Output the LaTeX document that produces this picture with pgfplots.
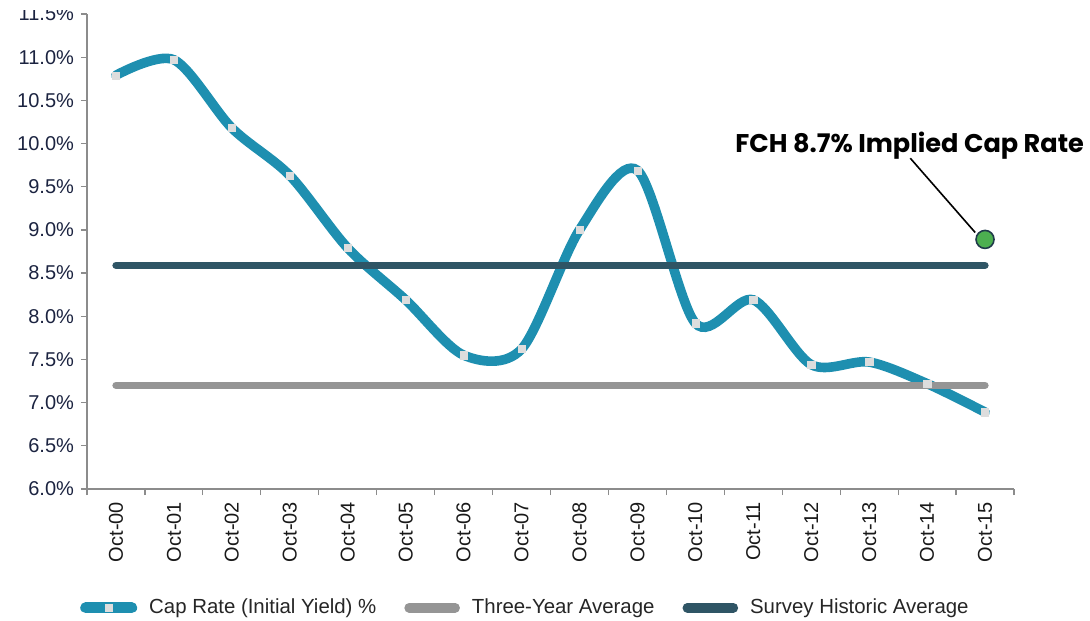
\documentclass[border=0pt]{standalone}
\usepackage{pgfplots}
\pgfplotsset{compat=1.18}
\usepackage{fontspec}
\setmainfont{Liberation Sans}
\newfontfamily\gothic{Poppins}
\definecolor{capblue}{HTML}{1E8FB0}
\definecolor{survey}{HTML}{2F5565}
\definecolor{threeyr}{HTML}{959595}
\definecolor{mkgray}{HTML}{DDDDDD}
\definecolor{axgray}{HTML}{8C8C8C}
\definecolor{ticknavy}{HTML}{1B2340}
\definecolor{dotgreen}{HTML}{4CAF50}
\definecolor{dotedge}{HTML}{1F3A4A}

\begin{document}
\begin{tikzpicture}
\useasboundingbox (-43.5pt,-65.5pt) rectangle (501.5pt,244.5pt);
\begin{axis}[
  at={(0,0)}, anchor=south west,
  scale only axis, width=463.5pt, height=237.5pt,
  xmin=-0.5, xmax=15.5, ymin=6, ymax=11.5,
  axis lines=left,
  x axis line style={-}, y axis line style={-},
  axis line style={draw=axgray, line width=0.6pt},
  tick align=outside, major tick length=3pt, minor tick length=3pt,
  tick style={draw=axgray, line width=0.6pt},
  xtick={0,...,15},
  xticklabels={Oct-00,Oct-01,Oct-02,Oct-03,Oct-04,Oct-05,Oct-06,Oct-07,Oct-08,Oct-09,Oct-10,Oct-11,Oct-12,Oct-13,Oct-14,Oct-15},
  minor xtick={-0.5,0.5,...,15.5},
  every major x tick/.append style={draw=none},
  xticklabel style={rotate=90, anchor=east, font=\fontsize{10}{11}\selectfont, text=black!90},
  ytick={6,6.5,7,7.5,8,8.5,9,9.5,10,10.5,11,11.5},
  yticklabel={\pgfmathprintnumber[fixed,fixed zerofill,precision=1]{\tick}\%},
  yticklabel style={font=\fontsize{10}{11}\selectfont, text=ticknavy},
  /pgf/number format/assume math mode=true,
  clip=false,
  legend columns=3,
  legend style={at={(0.474,-0.25)}, anchor=center, draw=none,
    font=\fontsize{10.2}{11}\selectfont, text=black!85,
    /tikz/every odd column/.append style={column sep=4pt},
    /tikz/every even column/.append style={column sep=12pt}},
]
\addplot[capblue, line width=4.8pt, line cap=round, smooth, tension=0.5,
  mark=square*, mark size=1.8pt,
  mark options={draw=mkgray, fill=mkgray, line width=0.2pt},
  legend image code/.code={
    \draw[capblue, line width=5.5pt, line cap=round] (0pt,0pt) -- (23pt,0pt);
    \fill[mkgray, draw=none] (9.5pt,-2pt) rectangle (13.5pt,2pt);}]
  coordinates {
  (0,10.79) (1,10.97) (2,10.18) (3,9.63) (4,8.79) (5,8.19) (6,7.55) (7,7.62)
  (8,9.00) (9,9.69) (10,7.92) (11,8.19) (12,7.44) (13,7.47) (14,7.22) (15,6.89)};
\addlegendentry{Cap Rate (Initial Yield) \%}
\addplot[threeyr, line width=3.6pt, line cap=round,
  legend image code/.code={
    \draw[threeyr, line width=4.8pt, line cap=round] (0pt,0pt) -- (23pt,0pt);}]
  coordinates {(0,7.20) (15,7.20)};
\addlegendentry{Three-Year Average}
\addplot[survey, line width=3.6pt, line cap=round,
  legend image code/.code={
    \draw[survey, line width=4.8pt, line cap=round] (0pt,0pt) -- (23pt,0pt);}]
  coordinates {(0,8.59) (15,8.59)};
\addlegendentry{Survey Historic Average}
\draw[black, line width=0.8pt] (axis cs:13.71,9.83) -- (axis cs:14.83,8.97);
\addplot[only marks, mark=*, mark size=4.5pt,
  mark options={fill=dotgreen, draw=dotedge, line width=0.8pt}]
  coordinates {(15,8.89)};
\node[font=\gothic\bfseries\fontsize{12.8}{14}\selectfont, text=black]
  at (axis cs:13.7,9.98) {FCH 8.7\% Implied Cap Rate};
\end{axis}
\fill[white] (-43.5pt,239.5pt) rectangle (-3pt,244.5pt);
\end{tikzpicture}
\end{document}
